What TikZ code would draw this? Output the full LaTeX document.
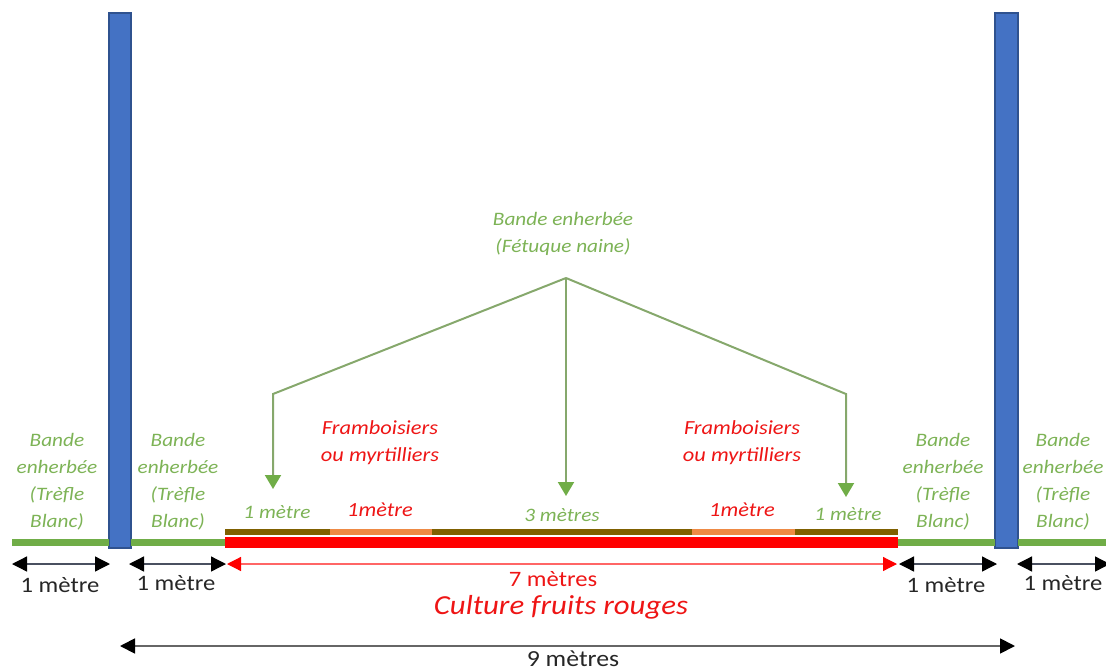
\documentclass[tikz,border=0pt]{standalone}
\usepackage{fontspec}
\setmainfont[FakeStretch=1.12]{Carlito}
\usetikzlibrary{arrows.meta}
\definecolor{post}{HTML}{4472C4}
\definecolor{postedge}{HTML}{2F528F}
\definecolor{grass}{HTML}{70AD47}
\definecolor{gtext}{HTML}{7DB356}
\definecolor{gline}{HTML}{86A86C}
\definecolor{soil}{HTML}{7F6000}
\definecolor{orng}{HTML}{EE8A45}
\definecolor{rtext}{HTML}{EE1515}
\definecolor{dimline}{HTML}{4A5060}
\begin{document}
\begin{tikzpicture}[x=1pt,y=-1pt,
  glabel/.style={text=gtext,align=center,inner sep=0pt,font=\fontsize{19}{27}\selectfont\itshape},
  rlabel/.style={text=rtext,align=center,inner sep=0pt,font=\fontsize{20}{27}\selectfont\itshape},
  gsmall/.style={text=gtext,inner sep=0pt,font=\fontsize{19}{23}\selectfont\itshape},
  blabel/.style={text=black!85,inner sep=0pt,font=\fontsize{22}{26}\selectfont},
  postbar/.style={fill=post,draw=postedge,line width=1.5pt},
  ground/.style={grass,line width=7pt},
  blacktip/.style={},
  dimarrow/.style={dimline,line width=1.3pt,{Triangle[length=15pt,width=15pt,color=black,fill=black]}-{Triangle[length=15pt,width=15pt,color=black,fill=black]}},
  reddim/.style={red!60,line width=1.2pt,{Triangle[length=14pt,width=14pt,fill=red,color=red]}-{Triangle[length=14pt,width=14pt,fill=red,color=red]}},
  pointer/.style={gline,line width=2pt,-{Triangle[length=14pt,width=16pt,color=grass,fill=grass]}}
]
\useasboundingbox (0,0) rectangle (1106,672);

% posts
\path[postbar] (109,13) rectangle (131,548);
\path[postbar] (995,13) rectangle (1018,548);

% ground strips
\draw[ground] (12,542) -- (109,542);
\draw[ground] (131,542) -- (225,542);
\draw[ground] (898,542) -- (995,542);
\draw[ground] (1018,542) -- (1106,542);

% culture
\fill[red] (225,537) rectangle (898,548);
\fill[soil] (225,529) rectangle (898,535);
\fill[orng] (330,529) rectangle (432,535);
\fill[orng] (692,529) rectangle (795,535);

% labels: grass strips
\node[glabel] (g1) at (57,482) {Bande\\enherbée\\(Trèfle\\Blanc)};
\node[glabel] (g2) at (178,482) {Bande\\enherbée\\(Trèfle\\Blanc)};
\node[glabel] (g3) at (943,482) {Bande\\enherbée\\(Trèfle\\Blanc)};
\node[glabel] (g4) at (1063,482) {Bande\\enherbée\\(Trèfle\\Blanc)};
\node[glabel] (top) at (563,234) {Bande enherbée\\(Fétuque naine)};

\node[rlabel] (f1) at (380,443) {Framboisiers\\ou myrtilliers};
\node[rlabel] (f2) at (742,443) {Framboisiers\\ou myrtilliers};

\node[gsmall] (m1) at (277,512) {1 mètre};
\node[gsmall] (m3) at (562,515) {3 mètres};
\node[gsmall] (m5) at (848,514) {1 mètre};
\node[rlabel] (r1) at (380,510) {1mètre};
\node[rlabel] (r2) at (742,510) {1mètre};

% pointers
\coordinate (apex) at (566,278);
\coordinate (bl) at (273,394);
\coordinate (br) at (846,394);
\coordinate (tl) at (273,489);
\coordinate (tm) at (566,496);
\coordinate (tr) at (846,497);
\draw[pointer] (apex) -- (bl) -- (tl);
\draw[pointer] (apex) -- (tm);
\draw[pointer] (apex) -- (br) -- (tr);

% dimension arrows
\coordinate (d1a) at (12,564); \coordinate (d1b) at (110,564);
\coordinate (d2a) at (129,564); \coordinate (d2b) at (226,564);
\coordinate (d3a) at (899,564); \coordinate (d3b) at (997,564);
\coordinate (d4a) at (1017,564); \coordinate (d4b) at (1110,564);
\draw[dimarrow] (d1a) -- (d1b);
\draw[dimarrow] (d2a) -- (d2b);
\draw[dimarrow] (d3a) -- (d3b);
\draw[dimarrow] (d4a) -- (d4b);
\coordinate (ra) at (227,564); \coordinate (rb) at (897,564);
\draw[reddim] (ra) -- (rb);
\coordinate (na) at (120,646); \coordinate (nb) at (1015,646);
\draw[dimarrow,line width=1.8pt,draw=gray!80!black] (na) -- (nb);

\node[blabel] (b1) at (60,585) {1 mètre};
\node[blabel] (b2) at (176,583) {1 mètre};
\node[blabel] (b3) at (946,585) {1 mètre};
\node[blabel] (b4) at (1063,583) {1 mètre};

\node[text=rtext,inner sep=0pt,font=\fontsize{22}{26}\selectfont] (seven) at (553,579) {7 mètres};
\node[text=rtext,inner sep=0pt,font=\fontsize{27.5}{30}\selectfont\itshape] (cult) at (561,607) {Culture fruits rouges};
\node[text=black!85,inner sep=0pt,font=\fontsize{23}{27}\selectfont] (nine) at (573,659) {9 mètres};
\end{tikzpicture}
\end{document}
